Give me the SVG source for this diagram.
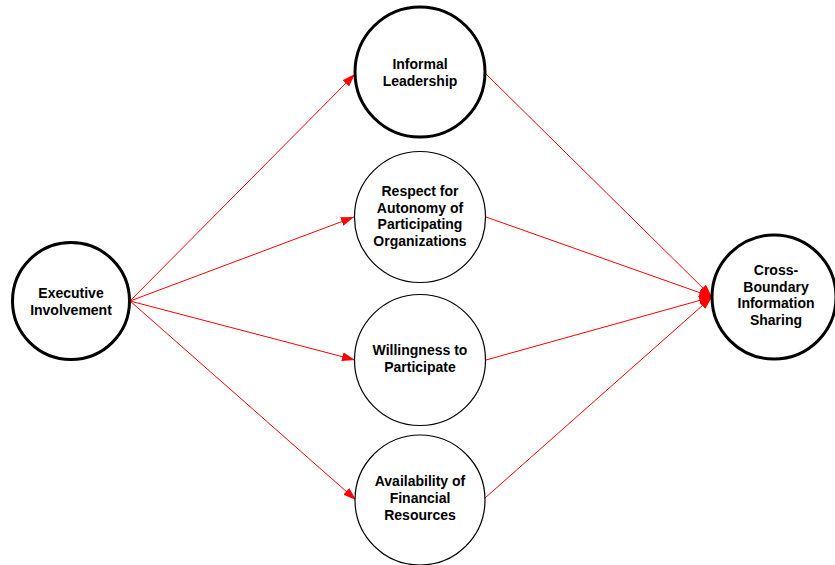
<svg xmlns="http://www.w3.org/2000/svg" width="835" height="565" viewBox="0 0 835 565">
  <style>
    .node { fill: #ffffff; stroke: #000000; }
    .thick { stroke-width: 3; }
    .thin { stroke-width: 1.2; }
    .label { font-family: "Liberation Sans", Arial, sans-serif; font-size: 14px; font-weight: bold; fill: #000000; text-anchor: middle; }
    .edge { stroke: #ff0000; stroke-width: 1; fill: none; marker-end: url(#arrow); }
  </style>
  <defs>
    <marker id="arrow" markerUnits="userSpaceOnUse" viewBox="0 0 13 9" refX="13" refY="4.5" markerWidth="13" markerHeight="9" orient="auto">
      <path d="M0,0 L13,4.5 L0,9 Z" fill="#ff0000"/>
    </marker>
  </defs>
  <rect width="835" height="565" fill="#ffffff"/>

  <g id="connectors">
    <line class="edge" x1="130" y1="301" x2="355" y2="74"/>
    <line class="edge" x1="130" y1="301" x2="354" y2="217"/>
    <line class="edge" x1="130" y1="301" x2="355" y2="360"/>
    <line class="edge" x1="130" y1="301" x2="356" y2="500"/>
    <line class="edge" x1="486" y1="74" x2="712" y2="297"/>
    <line class="edge" x1="486" y1="217" x2="712" y2="297"/>
    <line class="edge" x1="486" y1="360" x2="712" y2="297"/>
    <line class="edge" x1="485" y1="498" x2="712" y2="297"/>
  </g>

  <g id="executive-involvement">
    <circle class="node thick" cx="71" cy="301" r="58.5"/>
    <text class="label" x="71" y="298">Executive</text>
    <text class="label" x="71" y="315">Involvement</text>
  </g>

  <g id="informal-leadership">
    <circle class="node thick" cx="420" cy="72" r="65"/>
    <text class="label" x="420" y="69">Informal</text>
    <text class="label" x="420" y="86">Leadership</text>
  </g>

  <g id="respect-for-autonomy">
    <circle class="node thin" cx="420" cy="217" r="65.5"/>
    <text class="label" x="420" y="196">Respect for</text>
    <text class="label" x="420" y="212.5">Autonomy of</text>
    <text class="label" x="420" y="229">Participating</text>
    <text class="label" x="420" y="245.5">Organizations</text>
  </g>

  <g id="willingness-to-participate">
    <circle class="node thin" cx="420" cy="360" r="65.5"/>
    <text class="label" x="420" y="355">Willingness to</text>
    <text class="label" x="420" y="371.5">Participate</text>
  </g>

  <g id="availability-of-financial-resources">
    <circle class="node thin" cx="420" cy="500" r="65"/>
    <text class="label" x="420" y="486">Availability of</text>
    <text class="label" x="420" y="503">Financial</text>
    <text class="label" x="420" y="520">Resources</text>
  </g>

  <g id="cross-boundary-information-sharing">
    <circle class="node thick" cx="774" cy="297" r="62"/>
    <text class="label" x="776" y="275">Cross-</text>
    <text class="label" x="776" y="291.5">Boundary</text>
    <text class="label" x="776" y="308">Information</text>
    <text class="label" x="776" y="324.5">Sharing</text>
  </g>
</svg>
